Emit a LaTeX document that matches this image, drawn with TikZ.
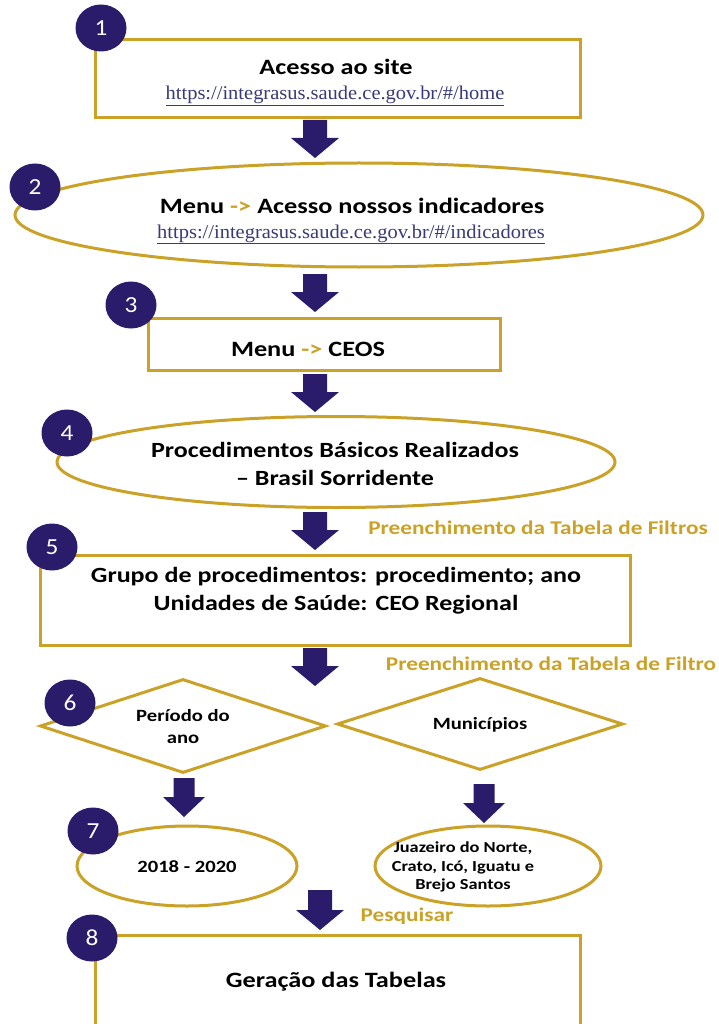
\documentclass[tikz,border=0pt]{standalone}
\usepackage{fontspec}
\setmainfont{Carlito}[FakeStretch=1.2]
\newfontfamily\urlfont{Liberation Serif}[FakeStretch=1.05]
\newfontfamily\numfont{Carlito}[FakeStretch=1.1]
\usetikzlibrary{shapes.geometric}
\definecolor{gold}{HTML}{C9A227}
\definecolor{navy}{HTML}{2B1B6B}
\definecolor{urlc}{HTML}{3A3A78}
\newcommand\blockarr[4][12]{% [half shaft] x, top, tip
  \fill[navy] (#2-#1,#3) -- (#2+#1,#3) -- (#2+#1,#4-20) -- (#2+2*#1,#4-20) -- (#2,#4) -- (#2-2*#1,#4-20) -- (#2-#1,#4-20) -- cycle;}
\begin{document}
\begin{tikzpicture}[x=1pt,y=-1pt,
  frame/.style={draw=gold, line width=3pt, fill=white, inner sep=0pt},
  numc/.style={ellipse, fill=navy, text=white, minimum width=51pt, minimum height=47pt, inner sep=0pt, font=\numfont\fontsize{23}{23}\selectfont},
  ttl/.style={font=\bfseries\fontsize{21.9}{26}\selectfont, inner sep=0pt},
  big/.style={font=\bfseries\fontsize{21.7}{28}\selectfont, align=center, inner sep=0pt},
  small/.style={font=\bfseries\fontsize{17.2}{22}\selectfont, align=center, inner sep=0pt},
  tiny/.style={font=\bfseries\fontsize{15.3}{18.5}\selectfont, align=center, inner sep=0pt},
  urlt/.style={font=\urlfont\fontsize{19.5}{20}\selectfont, text=urlc, inner sep=0pt},
  lbl/.style={text=gold, font=\bfseries\fontsize{19.4}{24}\selectfont, inner sep=0pt}]
\useasboundingbox (0,0) rectangle (719,1024);
\clip (0,0) rectangle (719,1024);
\fill[white] (0,0) rectangle (719,1024);
% 1
\node[frame, rectangle, minimum width=485pt, minimum height=78pt] (b1) at (337.5,79) {};
\node[ttl, anchor=base] (t1) at (336,75) {Acesso ao site};
\node[urlt, anchor=base] (u1) at (335,100) {\underline{https://integrasus.saude.ce.gov.br/\#/home}};
\node[numc] (n1) at (101,28) {1};
\blockarr{315}{120}{158}
% 2
\node[frame, ellipse, minimum width=688pt, minimum height=104pt] (b2) at (359,215) {};
\node[ttl, anchor=base] (t2) at (352,214) {Menu {\color{gold}->} Acesso nossos indicadores};
\node[urlt, anchor=base] (u2) at (351,238) {\underline{https://integrasus.saude.ce.gov.br/\#/indicadores}};
\node[numc] (n2) at (35,187) {2};
\blockarr{315}{274}{312}
% 3
\node[frame, rectangle, minimum width=352pt, minimum height=52pt] (b3) at (324,344) {};
\node[ttl] (t3) at (308,349) {Menu {\color{gold}->} CEOS};
\node[numc] (n3) at (131,305) {3};
\blockarr{315}{374}{412}
% 4
\node[frame, ellipse, minimum width=558pt, minimum height=91pt] (b4) at (336,462) {};
\node[big] (t4) at (335,464) {Procedimentos Básicos Realizados\\– Brasil Sorridente};
\node[numc] (n4) at (67,433) {4};
\blockarr{315}{512}{550}
\node[lbl] (l4) at (538,528) {Preenchimento da Tabela de Filtros};
% 5
\node[frame, rectangle, minimum width=590pt, minimum height=90pt] (b5) at (335,600) {};
\node[big] (t5) at (336,591) {Grupo de procedimentos: procedimento; ano\\Unidades de Saúde: CEO Regional};
\node[numc] (n5) at (52,547) {5};
\blockarr{315}{648}{686}
\node[lbl] (l5) at (551,664) {Preenchimento da Tabela de Filtro};
% 6
\node[frame, diamond, minimum width=286pt, minimum height=94pt] (d6) at (183,726) {};
\node[small] (t6) at (183,727) {Período do\\ano};
\node[frame, diamond, minimum width=286pt, minimum height=92pt] (d6r) at (480,724) {};
\node[small] (t6r) at (480,725) {Municípios};
\node[numc] (n6) at (70,703) {6};
\blockarr[10.5]{184}{778}{817}
\blockarr[10.5]{484}{784}{823}
% 7
\node[frame, ellipse, minimum width=220pt, minimum height=80pt] (e7) at (187,866) {};
\node[small] (t7) at (187,867) {2018 - 2020};
\node[frame, ellipse, minimum width=226pt, minimum height=80pt] (e7r) at (488,866) {};
\node[tiny] (t7r) at (463,867) {Juazeiro do Norte,\\Crato, Icó, Iguatu e\\Brejo Santos};
\node[numc] (n7) at (93,831) {7};
\blockarr{320}{890}{930}
\node[lbl] (l7) at (407,916) {Pesquisar};
% 8
\node[frame, rectangle, minimum width=485pt, minimum height=160pt] (b8) at (337.5,1015) {};
\node[ttl] (t8) at (336,982) {Geração das Tabelas};
\node[numc] (n8) at (92,938) {8};
\end{tikzpicture}
\end{document}
